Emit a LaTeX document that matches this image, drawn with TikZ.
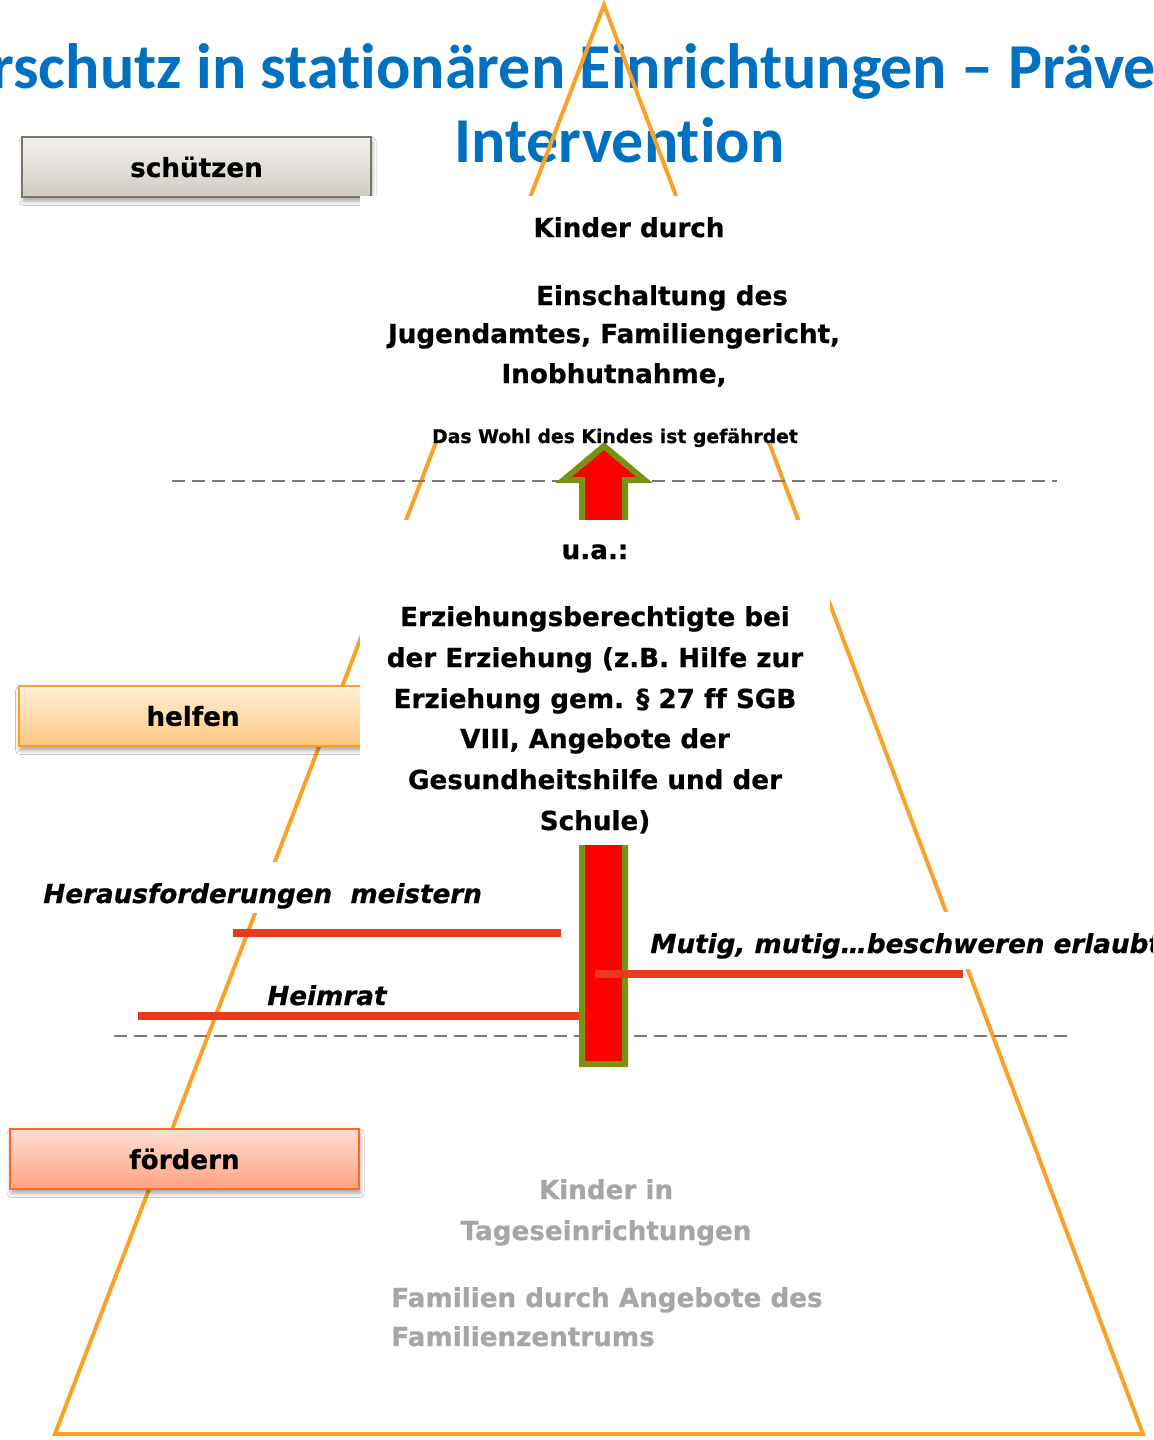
\documentclass[tikz,border=0pt]{standalone}
\usepackage{fontspec}
\setmainfont[Ligatures=NoCommon, BoldFeatures={FakeBold=0.7}, BoldItalicFeatures={FakeBold=0.7}]{DejaVu Sans}
\newfontfamily\titlefont[Ligatures=NoCommon]{Carlito}
\usetikzlibrary{shadows.blur}
\definecolor{titleblue}{RGB}{0,112,192}
\definecolor{pyrorange}{RGB}{250,162,40}
\definecolor{dashgray}{RGB}{128,120,110}
\definecolor{redline}{RGB}{234,58,30}
\definecolor{arrowgreen}{RGB}{119,147,17}
\definecolor{graytext}{RGB}{166,166,166}
\definecolor{grayA}{RGB}{243,241,237}
\definecolor{grayB}{RGB}{208,203,196}
\definecolor{grayBorder}{RGB}{125,116,106}
\definecolor{orA}{RGB}{255,239,216}
\definecolor{orB}{RGB}{253,199,126}
\definecolor{orBorder}{RGB}{250,160,40}
\definecolor{rdA}{RGB}{255,222,210}
\definecolor{rdB}{RGB}{255,162,128}
\definecolor{rdBorder}{RGB}{255,105,30}
\begin{document}
\begin{tikzpicture}[x=0.5pt,y=-0.5pt,
  txt/.style={inner sep=0pt, font=\fontsize{13.1pt}{16pt}\selectfont\bfseries},
  smalltxt/.style={inner sep=0pt, font=\fontsize{9.4pt}{11pt}\selectfont\bfseries},
  ittxt/.style={inner sep=0pt, font=\fontsize{13.1pt}{16pt}\selectfont\bfseries\itshape},
  graytxt/.style={txt, text=graytext},
  titletxt/.style={inner sep=0pt, text=titleblue, font=\fontsize{32pt}{38pt}\selectfont\titlefont\bfseries},
  labelbox/.style={draw, line width=1pt, minimum width=174.5pt, minimum height=30pt, inner sep=0pt,
     font=\fontsize{13.1pt}{16pt}\selectfont\bfseries,
     blur shadow={shadow xshift=0.6pt, shadow yshift=-2.2pt, shadow blur radius=2pt, shadow opacity=35}},
  pyr/.style={draw=pyrorange, line width=2pt, line join=miter},
  dashl/.style={draw=dashgray, line width=1pt, dash pattern=on 6.5pt off 3.5pt},
  redl/.style={draw=redline, line width=4pt},
  blank/.style={fill=white}
]
\useasboundingbox (0,0) rectangle (1153,1440);
\clip (0,0) rectangle (1153,1440);
\fill[white] (0,0) rectangle (1153,1440);

% title
\node[titletxt, anchor=base west] (t1) at (-9,88) {rschutz in stationären Einrichtungen – Präve};
\node[titletxt, anchor=base west] (t2) at (454,162) {Intervention};

% pyramid
\coordinate (apex) at (604,5);
\coordinate (bl) at (55,1434);
\coordinate (br) at (1143,1434);
\draw[pyr] (apex) -- (bl) -- (br) -- cycle;

% dashed level lines
\coordinate (d1a) at (172,481); \coordinate (d1b) at (1057,481);
\coordinate (d2a) at (114,1036); \coordinate (d2b) at (1073,1036);
\draw[dashl] (d1a) -- (d1b);
\draw[dashl] (d2a) -- (d2b);

% red lines below bar
\coordinate (r1a) at (233,933); \coordinate (r1b) at (561,933);
\coordinate (r2a) at (138,1016); \coordinate (r2b) at (582,1016);
\draw[redl] (r1a) -- (r1b);
\draw[redl] (r2a) -- (r2b);

% label boxes
\node[labelbox, draw=grayBorder, top color=grayA, bottom color=grayB] (schuetzen) at (196.5,167) {schützen};
\node[labelbox, draw=orBorder, top color=orA, bottom color=orB] (helfen) at (193,716) {helfen};
\node[labelbox, draw=rdBorder, top color=rdA, bottom color=rdB] (foerdern) at (184.5,1159) {fördern};

% white text-box backgrounds
\fill[blank] (360,196) rectangle (870,443);
\fill[blank] (35,862) rectangle (490,913);
\fill[blank] (640,912) rectangle (1153,969);

% big arrow
\draw[draw=arrowgreen, line width=3pt, fill=red, line join=miter]
  (582,1064) -- (582,480) -- (563.5,480) -- (604,446) -- (644.5,480) -- (625,480) -- (625,1064) -- cycle;

% middle text box background
\fill[blank] (360,520) rectangle (830,845);

% red line over bar
\coordinate (r3a) at (595,973.5); \coordinate (r3b) at (963,973.5);
\draw[redl] (r3a) -- (r3b);

% texts top
\node[txt, anchor=base] (kd) at (629,237) {Kinder durch};
\node[txt, anchor=base] (ein) at (662,305) {Einschaltung des};
\node[txt, anchor=base] (jug) at (614,343) {Jugendamtes, Familiengericht,};
\node[txt, anchor=base] (inob) at (614,383) {Inobhutnahme,};
\node[smalltxt, anchor=base] (wohl) at (615,443) {Das Wohl des Kindes ist gefährdet};

% texts middle
\node[txt, anchor=base] (ua) at (595,559) {u.a.:};
\node[txt, anchor=base] (m1) at (595,626) {Erziehungsberechtigte bei};
\node[txt, anchor=base] (m2) at (595,667) {der Erziehung (z.B. Hilfe zur};
\node[txt, anchor=base] (m3) at (595,708) {Erziehung gem. § 27 ff SGB};
\node[txt, anchor=base] (m4) at (595,748) {VIII, Angebote der};
\node[txt, anchor=base] (m5) at (595,789) {Gesundheitshilfe und der};
\node[txt, anchor=base] (m6) at (595,830) {Schule)};

% italic texts
\node[ittxt, anchor=base west] (heraus) at (43,903) {Herausforderungen\ \ meistern};
\node[ittxt, anchor=base west] (heimrat) at (267,1005) {Heimrat};
\node[ittxt, anchor=base west] (mutig) at (650,953) {Mutig, mutig…beschweren erlaubt};

% gray bottom texts
\node[graytxt, anchor=base] (kin) at (606,1199) {Kinder in};
\node[graytxt, anchor=base] (tag) at (606,1240) {Tageseinrichtungen};
\node[graytxt, anchor=base west] (fam1) at (391,1307) {Familien durch Angebote des};
\node[graytxt, anchor=base west] (fam2) at (391,1346) {Familienzentrums};
\end{tikzpicture}
\end{document}
